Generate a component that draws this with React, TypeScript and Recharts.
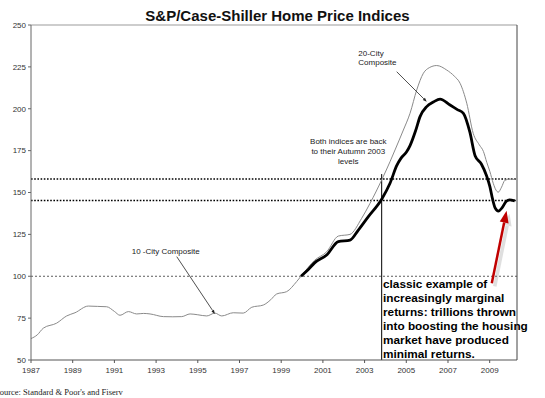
import React from "react";
import { LineChart, Line, XAxis, YAxis, ReferenceLine } from "recharts";

// 10-City Composite (thin grey)
const tenYears = [
  1987.0, 1987.3, 1987.59, 1988.23, 1988.71, 1989.11, 1989.75, 1990.2, 1990.63, 1991.0,
  1991.27, 1991.67, 1992.07, 1992.4, 1992.71, 1993.35, 1993.8, 1994.23, 1994.63, 1995.0,
  1995.43, 1995.82, 1996.15, 1996.7, 1997.18, 1997.59, 1998.14, 1998.5, 1998.78, 1999.26,
  1999.74, 1999.95, 2000.6, 2001.18, 2001.74, 2002.3, 2002.86, 2003.26, 2003.82, 2004.22,
  2004.46, 2004.86, 2005.18, 2005.5, 2005.82, 2006.1, 2006.46, 2006.94, 2007.3, 2007.58,
  2007.9, 2008.21, 2008.5, 2008.7, 2008.86, 2009.01, 2009.17, 2009.3, 2009.41, 2009.57,
  2009.73, 2009.97, 2010.2,
];
const tenValues = [
  62.8, 65, 69, 72, 76.3, 78.2, 82.2, 82, 81.8, 79,
  76.7, 78.9, 77.5, 77.8, 77.5, 75.9, 75.8, 75.9, 77.5, 77,
  76.3, 78, 76.3, 78.2, 78, 81.5, 82.8, 86, 89.4, 90.8,
  96.8, 100, 109.5, 114.6, 124, 125, 134.6, 143.5, 157.5, 168.4,
  175.4, 187.3, 197.3, 211.2, 221.2, 224.5, 225.8, 223.1, 219.5, 215.2,
  203.3, 185.3, 178.5, 174.5, 168, 162.5, 155.5, 151.5, 150.2, 153.2,
  157.3, 158, 157.8,
];

// 20-City Composite (bold black)
const twentyYears = [
  1999.95, 2000.3, 2000.6, 2001.18, 2001.74, 2002.3, 2002.7, 2003.18, 2003.82, 2004.22,
  2004.54, 2004.75, 2005.0, 2005.18, 2005.45, 2005.66, 2005.98, 2006.3, 2006.62, 2007.1,
  2007.45, 2007.74, 2008.05, 2008.3, 2008.6, 2008.85, 2009.01, 2009.14, 2009.26, 2009.42,
  2009.6, 2009.8, 2009.95, 2010.2,
];
const twentyValues = [
  100, 104, 108, 112.7, 120.7, 121.6, 127.6, 135.6, 146, 155.5,
  166, 170.5, 174, 178, 187, 195.3, 201.3, 204, 205.8, 202.2,
  199.5, 197.3, 186, 172, 167, 160, 153.5, 146, 140.8, 138.9,
  141, 144.8, 145.6, 145,
];

const yearTicks = [1987, 1989, 1991, 1993, 1995, 1997, 1999, 2001, 2003, 2005, 2007, 2009];
const valueTicks = [50, 75, 100, 125, 150, 175, 200, 225, 250];
const autumn2003Levels = [158, 145.2];

const noteLines = [
  "classic example of",
  "increasingly marginal",
  "returns: trillions thrown",
  "into boosting the housing",
  "market have produced",
  "minimal returns.",
];
const bothLines = ["Both indices are back", "to their Autumn 2003", "levels"];

const tenData = tenYears.map((year, i) => ({ year, value: tenValues[i] }));
const twentyData = twentyYears.map((year, i) => ({ year, value: twentyValues[i] }));

const SANS = "'Liberation Sans', Arial, sans-serif";

const arrowShape =
  (color: string, width: number, head: number, headW: number, shadow = false) =>
  (props: any) => {
    const { x1, y1, x2, y2 } = props;
    const dx = x2 - x1;
    const dy = y2 - y1;
    const len = Math.hypot(dx, dy) || 1;
    const ux = dx / len;
    const uy = dy / len;
    const bx = x2 - ux * head;
    const by = y2 - uy * head;
    const px = (-uy * headW) / 2;
    const py = (ux * headW) / 2;
    const pts = `${x2},${y2} ${bx + px},${by + py} ${bx - px},${by - py}`;
    return (
      <g>
        {shadow && (
          <g transform="translate(3,3)" opacity={0.18}>
            <line x1={x1} y1={y1} x2={bx} y2={by} stroke="#555" strokeWidth={width + 1} />
            <polygon points={pts} fill="#555" />
          </g>
        )}
        <line x1={x1} y1={y1} x2={bx} y2={by} stroke={color} strokeWidth={width} />
        <polygon points={pts} fill={color} />
      </g>
    );
  };

const tickStyle = { fontSize: 8, fill: "#333", fontFamily: SANS };

export default function App() {
  return (
    <div style={{ position: "relative", width: 545, height: 398, background: "#fff" }}>
      <style>{`body{margin:0}`}</style>
      <LineChart
        width={545}
        height={398}
        margin={{ top: 25, right: 0, bottom: 18, left: 0 }}
      >
        <XAxis
          dataKey="year"
          type="number"
          domain={[1987, 2010.31]}
          ticks={yearTicks}
          tickSize={3}
          tickMargin={4}
          height={20}
          interval={0}
          tick={tickStyle}
          stroke="#555"
          allowDataOverflow
        />
        <YAxis
          yAxisId="left"
          domain={[50, 250]}
          ticks={valueTicks}
          width={31}
          tickSize={3}
          tickMargin={2}
          interval={0}
          tick={tickStyle}
          stroke="#666"
        />
        <YAxis
          yAxisId="right"
          orientation="right"
          domain={[50, 250]}
          ticks={valueTicks}
          width={28}
          tickSize={3}
          tickMargin={3}
          interval={0}
          tick={tickStyle}
          stroke="#444"
        />
        <ReferenceLine yAxisId="left" y={250} stroke="#bdbdbd" strokeWidth={1.5} />
        <ReferenceLine yAxisId="left" y={100} stroke="#333" strokeWidth={0.8} strokeDasharray="2 2" />
        {autumn2003Levels.map((lv) => (
          <ReferenceLine
            key={lv}
            yAxisId="left"
            y={lv}
            stroke="#000"
            strokeWidth={1.5}
            strokeDasharray="1.6 1.6"
          />
        ))}
        <ReferenceLine
          yAxisId="left"
          segment={[
            { x: 2003.82, y: 161 },
            { x: 2003.82, y: 50 },
          ]}
          stroke="#000"
          strokeWidth={1}
        />
        <Line
          yAxisId="left"
          data={tenData}
          dataKey="value"
          type="monotone"
          stroke="#8a8a8a"
          strokeWidth={1}
          dot={false}
          isAnimationActive={false}
        />
        <Line
          yAxisId="left"
          data={twentyData}
          dataKey="value"
          type="monotone"
          stroke="#000"
          strokeWidth={2.8}
          dot={false}
          isAnimationActive={false}
        />
        <ReferenceLine
          yAxisId="left"
          ifOverflow="visible"
          segment={[
            { x: 2004.54, y: 222.1 },
            { x: 2005.98, y: 204.2 },
          ]}
          shape={arrowShape("#222", 0.8, 4, 3)}
        />
        <ReferenceLine
          yAxisId="left"
          ifOverflow="visible"
          segment={[
            { x: 1993.99, y: 111.7 },
            { x: 1995.82, y: 77.5 },
          ]}
          shape={arrowShape("#222", 0.8, 4, 3)}
        />
        <ReferenceLine
          yAxisId="left"
          ifOverflow="visible"
          segment={[
            { x: 2009.1, y: 95.8 },
            { x: 2009.81, y: 139.1 },
          ]}
          shape={arrowShape("#c00000", 2.5, 12, 9, true)}
        />
      </LineChart>

      <svg
        width={545}
        height={398}
        style={{ position: "absolute", left: 0, top: 0, pointerEvents: "none" }}
      >
        <text
          x={277.5}
          y={21}
          textAnchor="middle"
          fontFamily={SANS}
          fontWeight="bold"
          fontSize={15}
          fill="#111"
        >
          S&amp;P/Case-Shiller Home Price Indices
        </text>
        <text x={358.3} y={55.5} fontFamily={SANS} fontSize={8} fill="#222">
          20-City
        </text>
        <text x={358.3} y={65} fontFamily={SANS} fontSize={8} fill="#222">
          Composite
        </text>
        {bothLines.map((t, i) => (
          <text
            key={t}
            x={348.3}
            y={143.5 + i * 10.3}
            textAnchor="middle"
            fontFamily={SANS}
            fontSize={8}
            fill="#222"
          >
            {t}
          </text>
        ))}
        <text x={131.7} y={254} fontFamily={SANS} fontSize={8} fill="#222">
          10 -City Composite
        </text>
        {noteLines.map((t, i) => (
          <text
            key={t}
            x={383}
            y={288 + i * 14}
            fontFamily={SANS}
            fontWeight="bold"
            fontSize={11.8}
            fill="#000"
          >
            {t}
          </text>
        ))}
        <text x={-5} y={395} fontFamily="'Liberation Serif', 'Times New Roman', serif" fontSize={8.5} fill="#222">
          Source: Standard &amp; Poor's and Fiserv
        </text>
      </svg>
    </div>
  );
}
